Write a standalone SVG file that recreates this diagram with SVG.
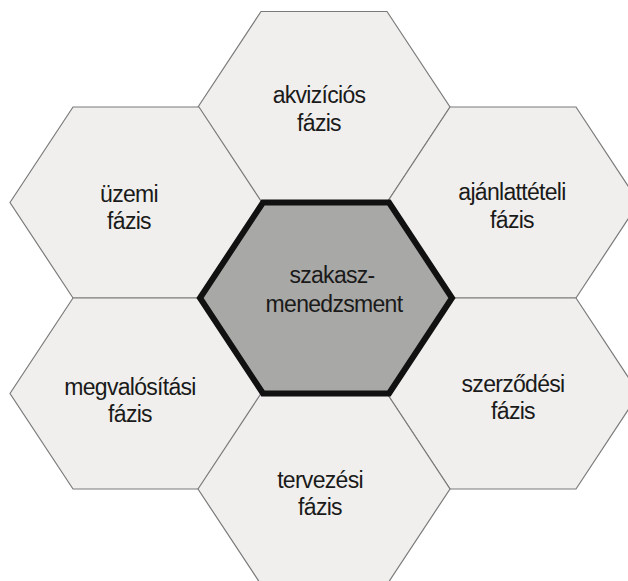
<svg xmlns="http://www.w3.org/2000/svg" xmlns:xlink="http://www.w3.org/1999/xlink" width="628" height="581" viewBox="0 0 628 581">
<style>
.outer{fill:#f0efed;stroke:#7a7a7a;stroke-width:1.2}
.center{fill:#a8a8a6;stroke:#111;stroke-width:6;stroke-linejoin:miter}
.lbl{font-family:"Liberation Sans",Arial,sans-serif;font-size:23px;letter-spacing:-0.7px;fill:#1a1a1a;text-anchor:middle}
</style>
<defs>
<polygon id="hex" points="-126,0 -63,-95.5 63,-95.5 126,0 63,95.5 -63,95.5"/>
</defs>
<rect width="628" height="581" fill="#ffffff"/>
<g id="akvizicios">
<use xlink:href="#hex" class="outer" x="324" y="107"/>
<text class="lbl" x="319" y="103">akvizíciós</text>
<text class="lbl" x="319" y="131">fázis</text>
</g>
<g id="uzemi">
<use xlink:href="#hex" class="outer" x="136" y="202.5"/>
<text class="lbl" x="129" y="202">üzemi</text>
<text class="lbl" x="129" y="229">fázis</text>
</g>
<g id="ajanlatteteli">
<use xlink:href="#hex" class="outer" x="513" y="202.5"/>
<text class="lbl" x="512" y="200">ajánlattételi</text>
<text class="lbl" x="512" y="228">fázis</text>
</g>
<g id="megvalositasi">
<use xlink:href="#hex" class="outer" x="136" y="393.5"/>
<text class="lbl" x="130" y="395">megvalósítási</text>
<text class="lbl" x="130" y="422">fázis</text>
</g>
<g id="szerzodesi">
<use xlink:href="#hex" class="outer" x="513" y="393.5"/>
<text class="lbl" x="513" y="392">szerződési</text>
<text class="lbl" x="513" y="419">fázis</text>
</g>
<g id="tervezesi">
<use xlink:href="#hex" class="outer" x="324" y="489"/>
<text class="lbl" x="320" y="488">tervezési</text>
<text class="lbl" x="320" y="515">fázis</text>
</g>
<g id="szakaszmenedzsment">
<use xlink:href="#hex" class="center" x="326" y="298"/>
<text class="lbl" x="332" y="283">szakasz-</text>
<text class="lbl" x="334" y="312">menedzsment</text>
</g>
</svg>
